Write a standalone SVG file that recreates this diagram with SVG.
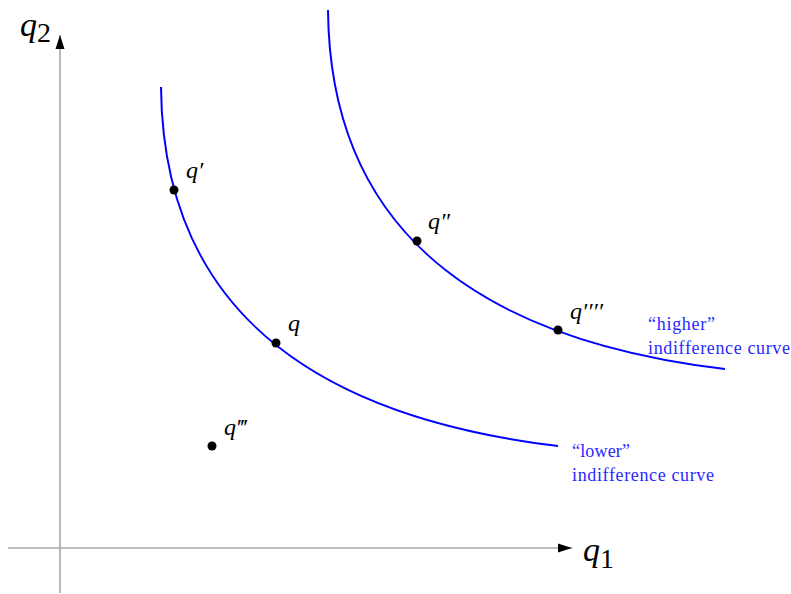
<svg xmlns="http://www.w3.org/2000/svg" width="791" height="594" viewBox="0 0 791 594">
<style>
.axis{stroke:#a8a8a8;stroke-width:1.6;fill:none}
.curve{stroke:#0000ff;stroke-width:2;fill:none}
.dot{fill:#000}
.lbl{font-family:"Liberation Serif","DejaVu Serif",serif;font-style:italic;font-size:24px;fill:#000}
.big{font-family:"Liberation Serif","DejaVu Serif",serif;font-style:italic;font-size:34px;fill:#000}
.sub{font-style:normal;font-size:28px}
.note{font-family:"Liberation Serif","DejaVu Serif",serif;font-size:18px;fill:#2828ff}
</style>
<defs>
<marker id="arr" markerWidth="16" markerHeight="10" refX="14" refY="5" orient="auto" markerUnits="userSpaceOnUse">
<path d="M0,0.5 L14,5 L0,9.5 Z" fill="#000"/>
</marker>
</defs>
<g id="axes">
<line class="axis" x1="8" y1="548" x2="572" y2="548" marker-end="url(#arr)"/>
<line class="axis" x1="60" y1="593" x2="60" y2="35" marker-end="url(#arr)"/>
<text class="big" x="20" y="36">q<tspan class="sub" dy="6">2</tspan></text>
<text class="big" x="583" y="561">q<tspan class="sub" dy="7">1</tspan></text>
</g>
<g id="connectors">
<path id="lower" class="curve" d="M161,87 C163,327 338,419.6 558,446"/>
<path id="higher" class="curve" d="M328,10 C330,250 505,342.6 725,369"/>
</g>
<g id="q1node">
<circle class="dot" cx="174" cy="190" r="4.5"/>
<text class="lbl" x="186" y="178">q′</text>
</g>
<g id="qnode">
<circle class="dot" cx="276" cy="343" r="4.5"/>
<text class="lbl" x="288" y="331">q</text>
</g>
<g id="q2node">
<circle class="dot" cx="417" cy="241" r="4.5"/>
<text class="lbl" x="428" y="229">q″</text>
</g>
<g id="q4node">
<circle class="dot" cx="558" cy="330" r="4.5"/>
<text class="lbl" x="570" y="319">q′′′′</text>
</g>
<g id="q3node">
<circle class="dot" cx="212" cy="446" r="4.5"/>
<text class="lbl" x="224" y="435">q‴</text>
</g>
<g id="higherlabel">
<text class="note" x="648" y="330" textLength="67">“higher”</text>
<text class="note" x="648" y="354" textLength="142">indifference curve</text>
</g>
<g id="lowerlabel">
<text class="note" x="572" y="457" textLength="58">“lower”</text>
<text class="note" x="572" y="481" textLength="142">indifference curve</text>
</g>
</svg>
